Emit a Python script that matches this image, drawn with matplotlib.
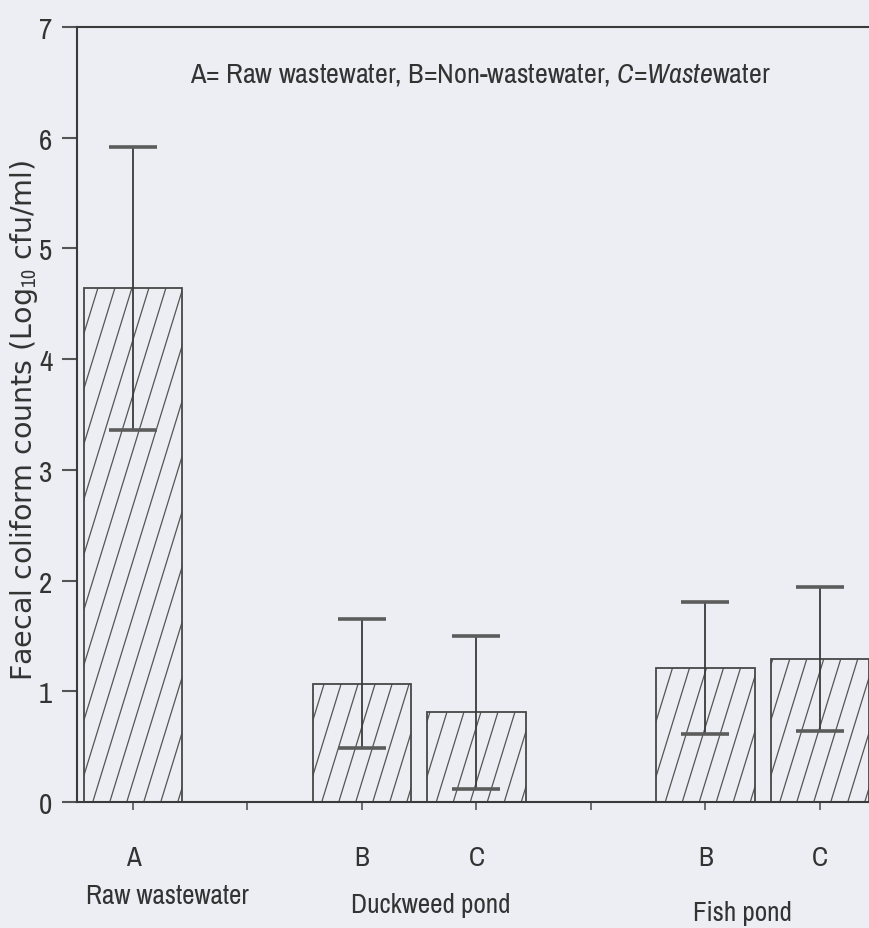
import numpy as np
import matplotlib
matplotlib.use("Agg")
import matplotlib.pyplot as plt
from matplotlib import font_manager
from matplotlib.collections import LineCollection
from matplotlib.transforms import IdentityTransform, blended_transform_factory

# ---- data ----
bar_positions = [0, 2, 3, 5, 6]
bar_values = [4.64, 1.07, 0.81, 1.21, 1.29]
bar_errors = [1.28, 0.58, 0.69, 0.60, 0.65]
tick_positions = [0, 1, 2, 3, 4, 5, 6]
tick_labels = ["A", "", "B", "C", "", "B", "C"]
group_labels = ["Raw wastewater", "Duckweed pond", "Fish pond"]
y_ticks = [0, 1, 2, 3, 4, 5, 6, 7]

# ---- fonts ----
names = sorted({f.name for f in font_manager.fontManager.ttflist})
narrow_cands = [n for n in names if ("Narrow" in n or "Condensed" in n)]
if narrow_cands:
    narrow = narrow_cands[0]
    scale = 1.0
else:
    narrow = "Liberation Sans"
    scale = 0.86
plt.rcParams["mathtext.fontset"] = "custom"
plt.rcParams["mathtext.rm"] = narrow
plt.rcParams["mathtext.it"] = narrow + ":italic"
plt.rcParams["mathtext.bf"] = narrow + ":bold"

bg = "#eceef3"
ink = "#3a3a3a"
txt = "#333333"

W, H = 870, 929
fig = plt.figure(figsize=(W / 100, H / 100), dpi=100, facecolor=bg)
px_unit_x = 114.5
x_left = -0.489
x_right = 6.6
ax_w = (x_right - x_left) * px_unit_x
ax = fig.add_axes([77 / W, 1 - 803 / H, ax_w / W, (803 - 28) / H])
ax.set_facecolor(bg)
ax.set_xlim(x_left, x_right)
ax.set_ylim(0, 7)

bars = ax.bar(bar_positions, bar_values, width=0.86, facecolor="none",
              edgecolor="#474747", linewidth=1.3, zorder=2)

# steep custom hatching, clipped to each bar
for b in bars:
    x0, y0 = ax.transData.transform((b.get_x(), b.get_y()))
    x1, y1 = ax.transData.transform((b.get_x() + b.get_width(), b.get_y() + b.get_height()))
    slope = 3.25
    step = 17.0
    hgt = y1 - y0
    segs = []
    c = x0 + 9 - np.ceil(hgt / slope / step) * step
    while c < x1:
        segs.append([(c, y0), (c + hgt / slope, y1)])
        c += step
    lc = LineCollection(segs, colors="#555555", linewidths=0.9,
                        transform=IdentityTransform(), zorder=1.5)
    ax.add_collection(lc)
    lc.set_clip_path(b)

eb = ax.errorbar(bar_positions, bar_values, yerr=bar_errors, fmt="none",
                 ecolor=ink, elinewidth=1.3, capsize=17, capthick=2.6, zorder=3)
for cl in eb[1]:
    cl.set_color("#5c5c5c")
    cl.set_markeredgecolor("#5c5c5c")

# axes styling
for s in ["left", "bottom", "top"]:
    ax.spines[s].set_color(ink)
    ax.spines[s].set_linewidth(1.5)
ax.spines["right"].set_visible(False)

ax.set_yticks(y_ticks)
ax.set_yticklabels([str(v) for v in y_ticks], fontfamily=narrow, fontsize=21 * scale, color=txt)
ax.tick_params(axis="y", direction="out", length=10.8, width=1.5, color="#555555", pad=7)

ax.set_xticks(tick_positions)
ax.set_xticklabels(tick_labels, fontfamily=narrow, fontsize=19.5 * scale, color=txt)
ax.tick_params(axis="x", direction="out", length=6, width=1.2, color="#555555", pad=25)

tr = blended_transform_factory(ax.transData, ax.transAxes)
group_x = [0.30, 2.60, 5.32]
group_y = [-0.121, -0.132, -0.142]
for gx, gy, lab in zip(group_x, group_y, group_labels):
    ax.text(gx, gy, lab, transform=tr, ha="center", va="center",
            fontfamily=narrow, fontsize=19.5 * scale, color=txt)

fig.text(480 / W, 1 - 75 / H,
         r"A= Raw wastewater, B=Non-wastewater, $\mathit{C}$=$\mathit{Waste}$water",
         ha="center", va="center", fontfamily=narrow, fontsize=20.3 * scale, color=txt)

fig.text(24 / W, 1 - 420 / H, r"Faecal coliform counts (Log$_{10}$ cfu/ml)",
         rotation=90, ha="center", va="center", fontfamily="DejaVu Sans",
         fontsize=20.5, color=txt)

fig.savefig("out.png", dpi=100, facecolor=bg)
